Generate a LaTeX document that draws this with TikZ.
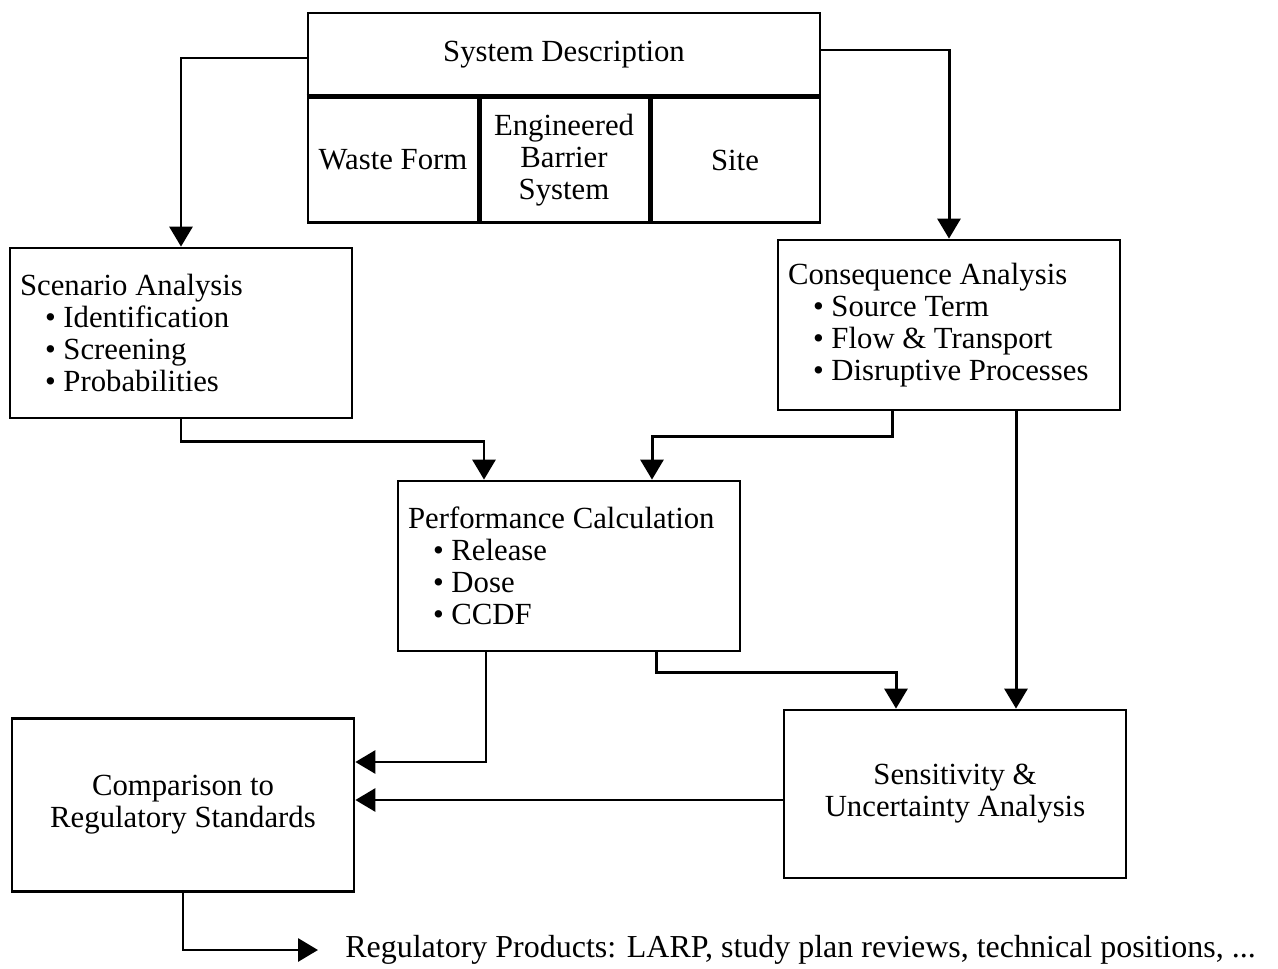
\documentclass[tikz,border=0pt]{standalone}
\usepackage{fontspec}
\setmainfont{Liberation Serif}
\usetikzlibrary{arrows.meta, positioning, calc}

\begin{document}
\begin{tikzpicture}[
    x=0.02cm, y=-0.02cm,
    >={Triangle[length=4mm, width=4.6mm]},
    font=\fontsize{17.5}{18.2}\selectfont,
    every node/.style={inner sep=0pt},
    syscell/.style={
        draw, line width=1.6pt, align=center,
        minimum width=3.4cm, minimum height=2.5cm
    },
    listbox/.style={
        draw, line width=1.6pt, align=flush left,
        inner xsep=2mm, text width=6.44cm, minimum height=3.4cm
    },
    endbox/.style={
        draw, line width=1.6pt, align=center,
        minimum width=6.84cm, minimum height=3.45cm
    },
    arrstyle/.style={->, line width=1.7pt},
]
\useasboundingbox (0,0) rectangle (1278,969);

% === System description block ===
\node[draw, line width=1.6pt, minimum width=10.24cm, minimum height=1.68cm] (sysdesc) at (564,55) {System Description};
\node[syscell] (waste) at (393,160) {Waste Form};
\node[syscell] (ebs) at (564,160) {Engineered\\Barrier\\System};
\node[syscell] (site) at (735,160) {Site};

% heavier dividers inside the block
\draw[line width=2.6pt] (waste.north west) -- (site.north east);
\draw[line width=2.6pt] (waste.north east) -- (waste.south east);
\draw[line width=2.6pt] (ebs.north east) -- (ebs.south east);

% === Analysis boxes ===
\node[listbox] (scenario) at (181,333) {Scenario Analysis\\
    \hspace*{0.5cm}\textbullet\ Identification\\
    \hspace*{0.5cm}\textbullet\ Screening\\
    \hspace*{0.5cm}\textbullet\ Probabilities};

\node[listbox] (cons) at (949,325) {Consequence Analysis\\
    \hspace*{0.5cm}\textbullet\ Source Term\\
    \hspace*{0.5cm}\textbullet\ Flow \& Transport\\
    \hspace*{0.5cm}\textbullet\ Disruptive Processes};

\node[listbox] (perf) at (569,566) {Performance Calculation\\
    \hspace*{0.5cm}\textbullet\ Release\\
    \hspace*{0.5cm}\textbullet\ Dose\\
    \hspace*{0.5cm}\textbullet\ CCDF};

% === Results ===
\node[endbox] (comp) at (183,805) {Comparison to\\Regulatory Standards};
\node[endbox, minimum height=3.36cm] (sens) at (955,794) {Sensitivity \&\\Uncertainty Analysis};

\node[anchor=west, font=\fontsize{18.2}{19}\selectfont] (products) at (345,950) {Regulatory Products: LARP, study plan reviews, technical positions, ...};

% === Arrows ===
\draw[arrstyle] ($(sysdesc.west)+(0,3)$) -| (scenario.north);
\draw[arrstyle] ($(sysdesc.east)+(0,-5)$) -| (cons.north);
\draw[arrstyle] (scenario.south) -- ++(0,22) -| ($(perf.north)+(-85,0)$);
\draw[arrstyle] ($(cons.south)+(-57,0)$) -- ++(0,25) -| ($(perf.north)+(83,0)$);
\draw[arrstyle] ($(cons.south)+(67,0)$) -- ($(sens.north)+(61,0)$);
\draw[arrstyle] ($(perf.south)+(87,0)$) -- ++(0,20) -| ($(sens.north)+(-59,0)$);
\draw[arrstyle] ($(perf.south)+(-83,0)$) |- ($(comp.east)+(0,-43)$);
\draw[arrstyle] ($(sens.west)+(0,6)$) -- ($(comp.east)+(0,-5)$);
\draw[arrstyle, shorten >=5.4mm] (comp.south) |- (products.west);

\end{tikzpicture}
\end{document}
